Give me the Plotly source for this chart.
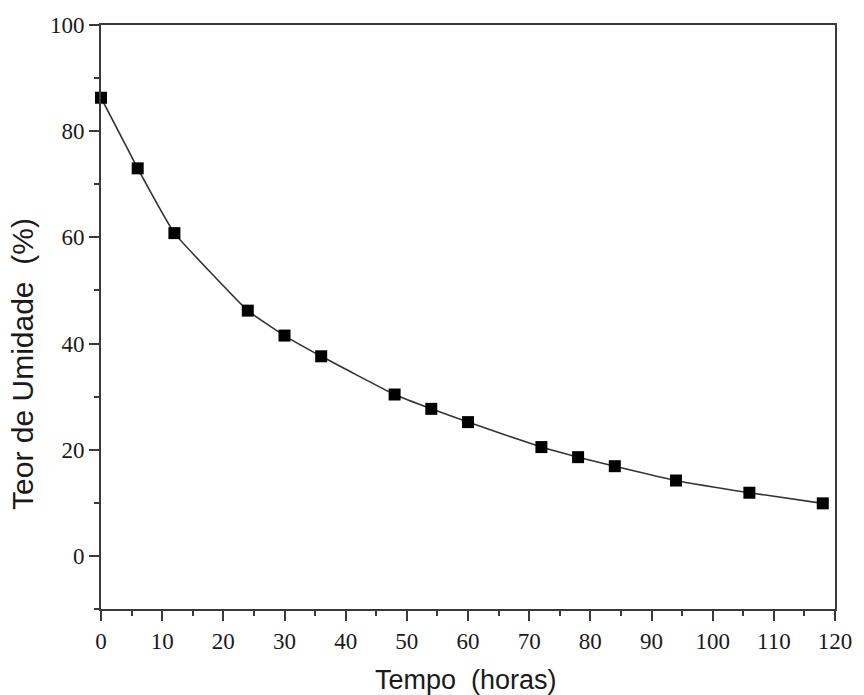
import plotly.graph_objects as go

# Moisture content over drying time
tempo_horas = [0, 6, 12, 24, 30, 36, 48, 54, 60, 72, 78, 84, 94, 106, 118]
teor_umidade = [86.3, 73.0, 60.8, 46.2, 41.5, 37.6, 30.4, 27.7, 25.2, 20.5, 18.6, 16.9, 14.2, 11.9, 9.9]

x_ticks = list(range(0, 121, 10))
y_ticks = list(range(0, 101, 20))

axis_color = "#3a3a3a"
tick_font = dict(family="Liberation Serif, Times New Roman, serif", size=23, color="#1a1a1a")
sans = "Liberation Sans, Arial, sans-serif"

fig = go.Figure()
fig.add_trace(go.Scatter(
    x=tempo_horas,
    y=teor_umidade,
    mode="lines+markers",
    line=dict(color="#333333", width=1.6, shape="spline", smoothing=0.3),
    marker=dict(symbol="square", size=12, color="black"),
    cliponaxis=False,
    showlegend=False,
))

fig.update_layout(
    width=864,
    height=695,
    paper_bgcolor="white",
    plot_bgcolor="white",
    margin=dict(l=101, r=23, t=25, b=86),
    annotations=[
        dict(text="Tempo\u00a0 (horas)", xref="paper", yref="paper", x=0.497, y=-0.122,
             xanchor="center", yanchor="middle", showarrow=False,
             font=dict(family=sans, size=27, color="#1a1a1a")),
        dict(text="Teor de Umidade\u00a0 (%)", xref="paper", yref="paper", x=-0.106, y=0.42,
             xanchor="center", yanchor="middle", textangle=-90, showarrow=False,
             font=dict(family=sans, size=30, color="#1a1a1a")),
    ],
)

fig.update_xaxes(
    range=[0, 120],
    tickvals=x_ticks,
    ticktext=[str(v) for v in x_ticks],
    ticks="outside",
    ticklen=10,
    tickwidth=2,
    tickcolor=axis_color,
    minor=dict(dtick=5, ticks="outside", ticklen=5, tickwidth=2, tickcolor=axis_color, showgrid=False),
    showline=True,
    linecolor=axis_color,
    linewidth=2,
    mirror=True,
    showgrid=False,
    zeroline=False,
    tickfont=tick_font,
)

fig.update_yaxes(
    range=[-10, 100],
    tickvals=y_ticks,
    ticktext=[str(v) for v in y_ticks],
    ticks="outside",
    ticklen=10,
    tickwidth=2,
    tickcolor=axis_color,
    minor=dict(dtick=10, ticks="outside", ticklen=5, tickwidth=2, tickcolor=axis_color, showgrid=False),
    showline=True,
    linecolor=axis_color,
    linewidth=2,
    mirror=True,
    showgrid=False,
    zeroline=False,
    tickfont=tick_font,
)

fig.write_html("out.html")
